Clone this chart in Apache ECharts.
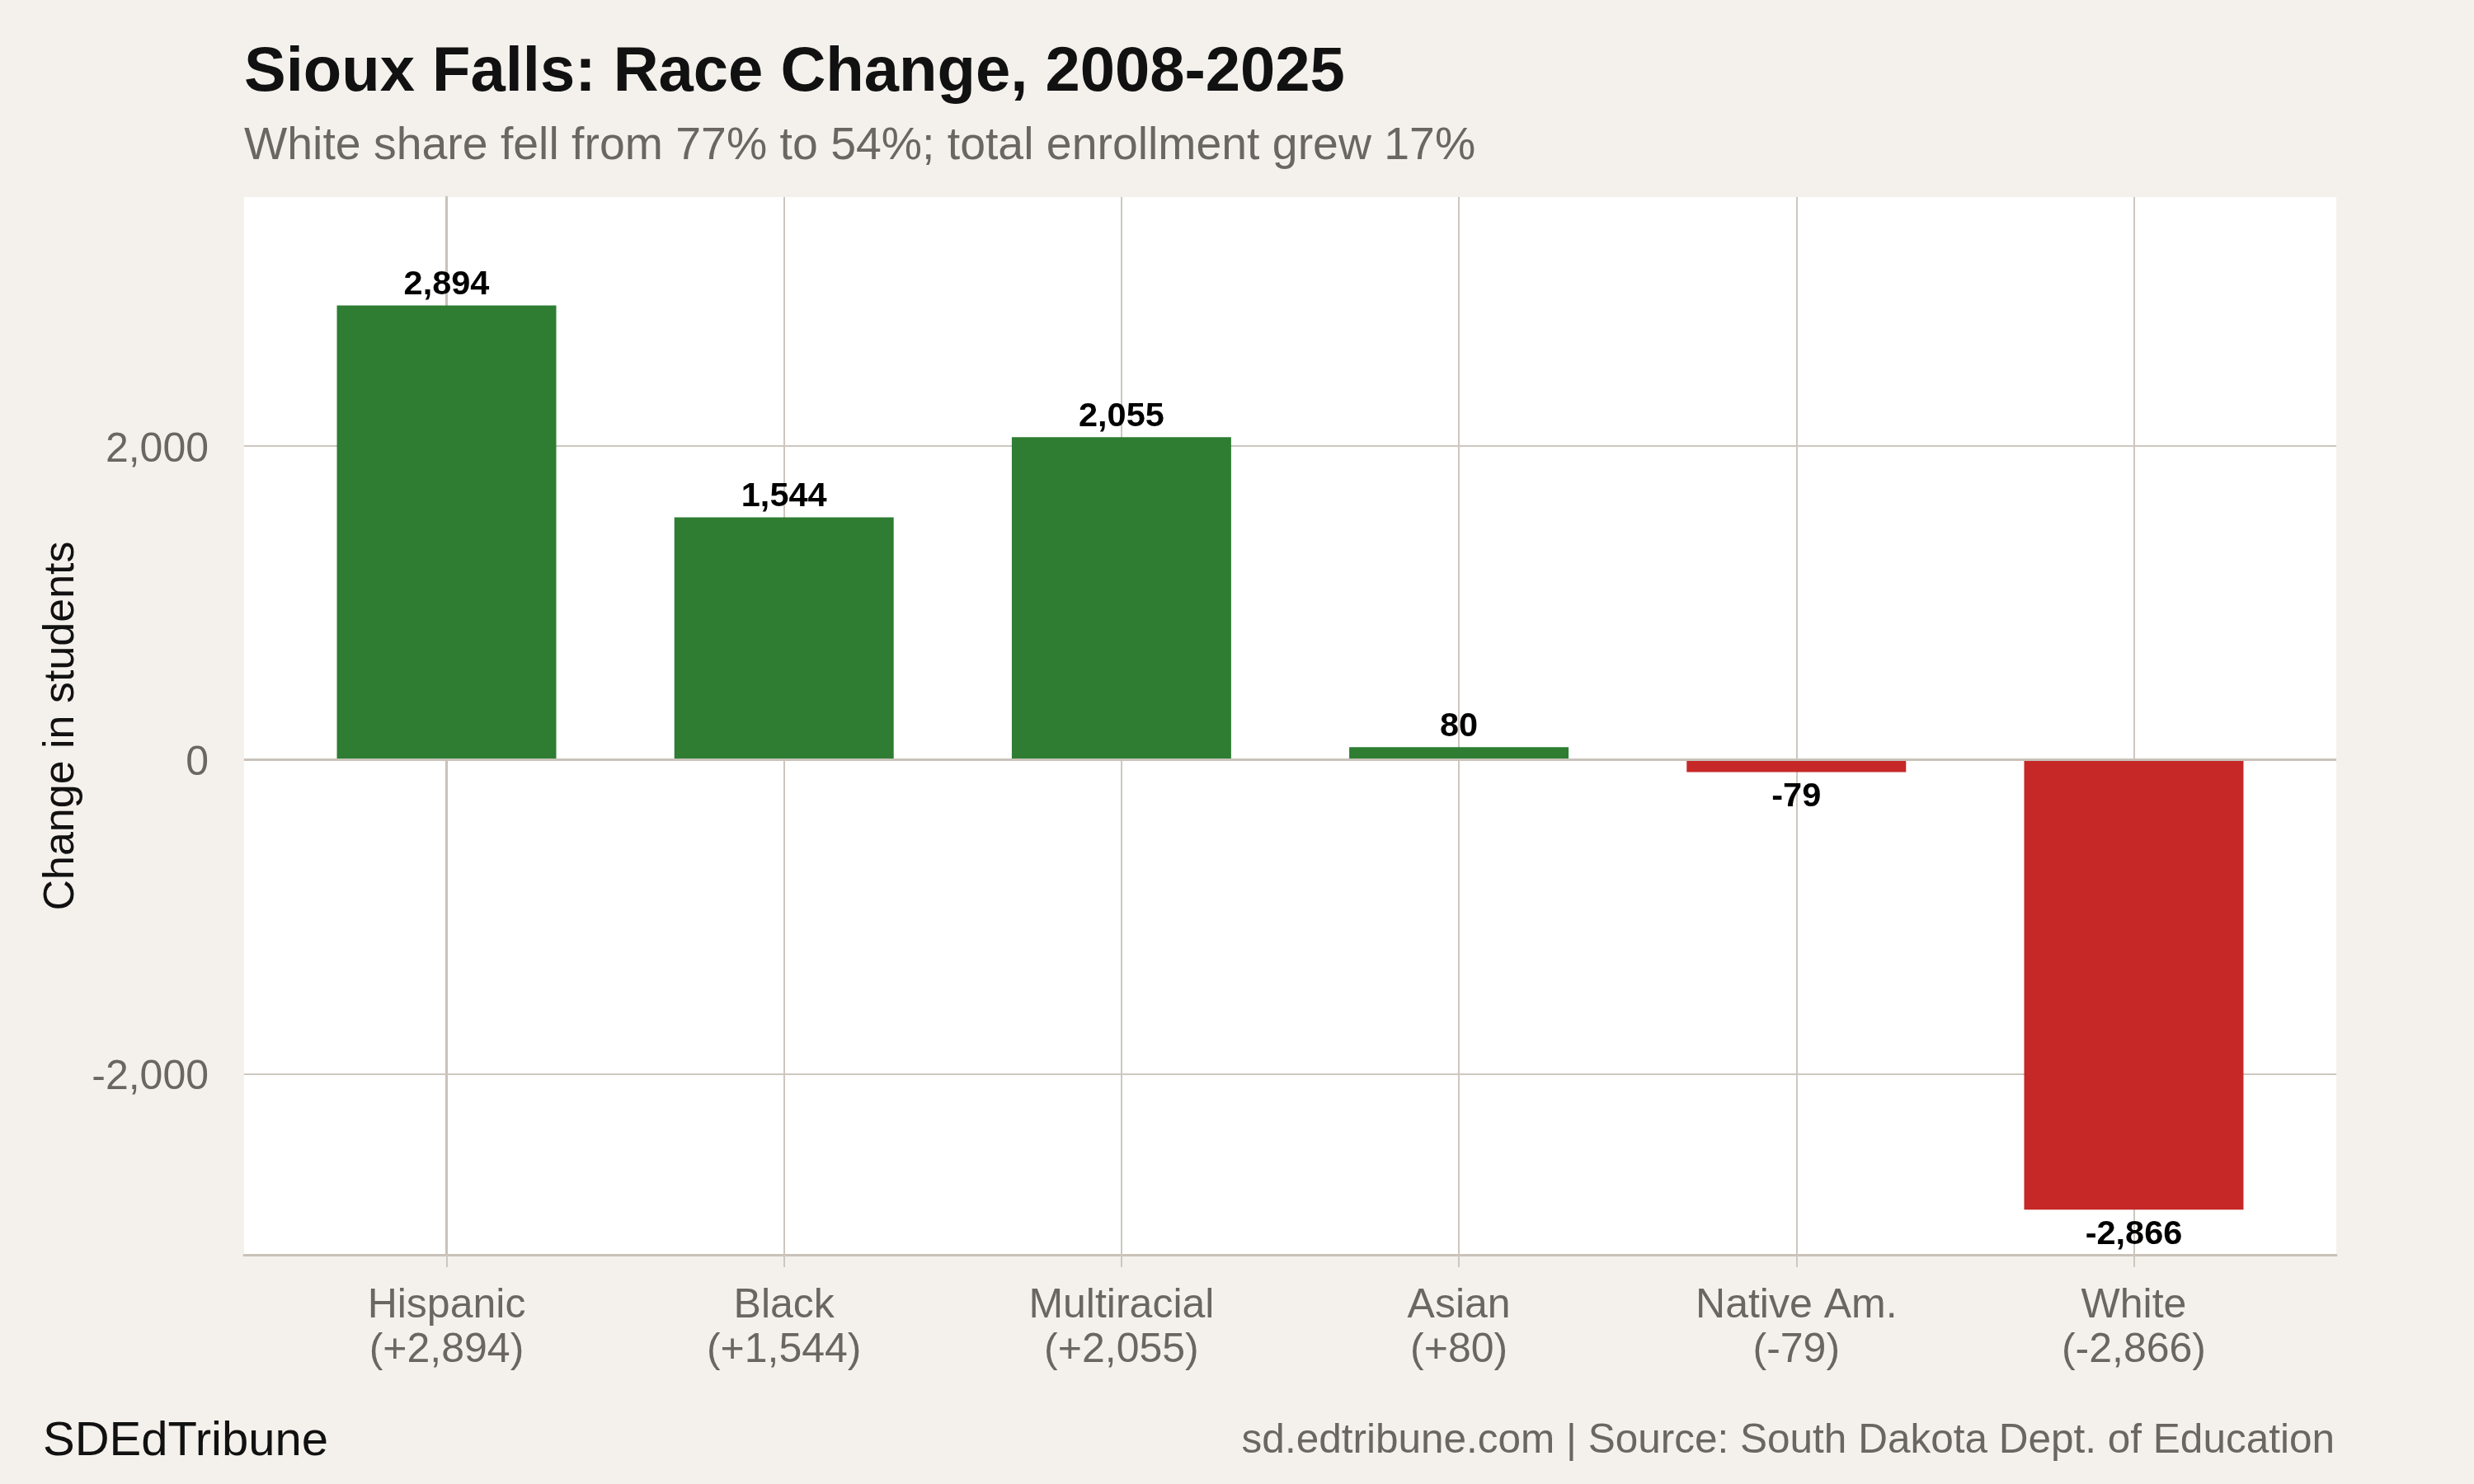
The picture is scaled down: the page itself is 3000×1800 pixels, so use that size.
<!DOCTYPE html>
<html>
<head>
<meta charset="utf-8">
<script src="https://cdn.jsdelivr.net/npm/echarts@6/dist/echarts.min.js"></script>
<style>
  html, body { margin: 0; padding: 0; background: #f4f1ec; }
  #chart { width: 3000px; height: 1800px; }
</style>
</head>
<body>
<div id="chart"></div>
<script>
// ---- data ----
const categories = ['Hispanic', 'Black', 'Multiracial', 'Asian', 'Native Am.', 'White'];
const changes = [2894, 1544, 2055, 80, -79, -2866];
const yTicks = [-2000, 0, 2000];
const titleText = 'Sioux Falls: Race Change, 2008-2025';
const subtitleText = 'White share fell from 77% to 54%; total enrollment grew 17%';
const yAxisTitle = 'Change in students';
const footerLeft = 'SDEdTribune';
const footerRight = 'sd.edtribune.com | Source: South Dakota Dept. of Education';

// ---- styles ----
const GREEN = '#2e7d32';
const RED = '#c62828';
const GRIDC = '#cdc7bf';
const AXISC = '#c8c2b9';
const LABELC = '#6b6661';
const FONT = '"Liberation Sans", Arial, Helvetica, sans-serif';

const fmt = v => Math.abs(v).toLocaleString('en-US');
const signed = v => (v > 0 ? '+' : (v < 0 ? '-' : '')) + fmt(v);
const plain = v => (v < 0 ? '-' : '') + fmt(v);

const catIdx = categories.map((c, i) => i);
const barData = changes.map((v, i) => ({
  value: [i, v],
  itemStyle: { color: v >= 0 ? GREEN : RED },
  label: { position: v >= 0 ? 'top' : 'bottom', distance: v >= 0 ? 4 : 9 }
}));

const chart = echarts.init(document.getElementById('chart'), null, { renderer: 'canvas' });
chart.setOption({
  backgroundColor: '#f4f1ec',
  animation: false,
  textStyle: { fontFamily: FONT },
  title: [
    { text: titleText, left: 296, top: 51, padding: 0,
      textStyle: { fontFamily: FONT, fontSize: 76, fontWeight: 'bold', color: '#111111' } },
    { text: subtitleText, left: 296, top: 150, padding: 0,
      textStyle: { fontFamily: FONT, fontSize: 55.4, fontWeight: 'normal', color: '#6b6661' } },
    { text: footerLeft, left: 52, top: 1720, padding: 0,
      textStyle: { fontFamily: FONT, fontSize: 58, fontWeight: 'normal', color: '#111111' } },
    { text: footerRight, right: 169, top: 1723, padding: 0,
      textStyle: { fontFamily: FONT, fontSize: 49.5, fontWeight: 'normal', color: '#6b6661' } }
  ],
  grid: {
    left: 296, right: 167, top: 239, bottom: 278,
    show: true, backgroundColor: '#ffffff', borderWidth: 0,
    containLabel: false
  },
  xAxis: {
    type: 'value',
    min: -0.6, max: 5.6,
    axisLine: { show: true, onZero: false, lineStyle: { color: AXISC, width: 3 } },
    axisTick: { show: true, customValues: catIdx, length: 15, lineStyle: { color: GRIDC, width: 2 } },
    axisLabel: {
      show: true, customValues: catIdx, margin: 35,
      fontFamily: FONT, fontSize: 50, lineHeight: 54, color: LABELC,
      formatter: v => categories[v] + '\n(' + signed(changes[v]) + ')'
    },
    splitLine: { show: true, lineStyle: { color: GRIDC, width: 2 } }
  },
  yAxis: {
    type: 'value',
    min: -3154, max: 3585,
    name: yAxisTitle, nameLocation: 'middle', nameGap: 195,
    nameTextStyle: { fontFamily: FONT, fontSize: 52, color: '#111111' },
    axisLine: { show: true, lineStyle: { color: AXISC, width: 3 } },
    axisTick: { show: true, customValues: yTicks, length: 15, lineStyle: { color: GRIDC, width: 2 } },
    axisLabel: {
      show: true, customValues: yTicks, margin: 43,
      fontFamily: FONT, fontSize: 50, color: LABELC,
      formatter: v => '{t|' + plain(v) + '}',
      rich: { t: { fontFamily: FONT, fontSize: 50, color: LABELC, padding: [10, 0, 0, 0] } }
    },
    splitLine: { show: true, lineStyle: { color: GRIDC, width: 2 } }
  },
  series: [{
    type: 'bar',
    data: barData,
    barWidth: '65%',
    label: {
      show: true,
      fontFamily: FONT, fontSize: 41.5, fontWeight: 'bold', color: '#000000',
      formatter: p => plain(p.value[1])
    },
    markLine: {
      silent: true, symbol: 'none', label: { show: false },
      lineStyle: { color: AXISC, width: 3, type: 'solid' },
      data: [{ yAxis: 0 }]
    }
  }]
});
</script>
</body>
</html>
